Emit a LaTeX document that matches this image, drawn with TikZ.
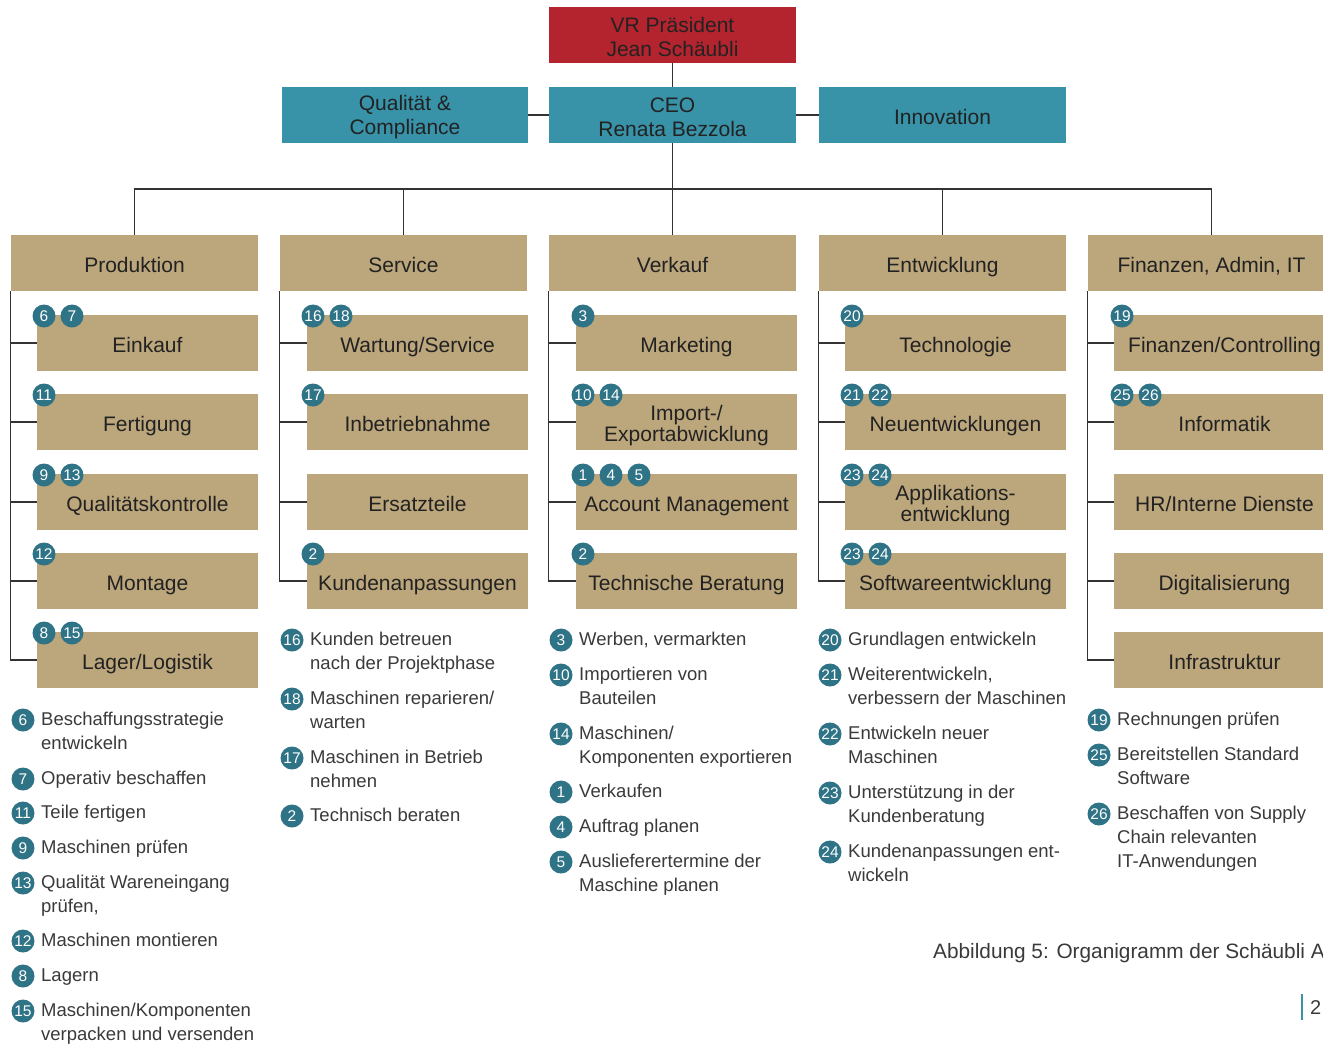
\documentclass[tikz,border=0pt]{standalone}
\usepackage{fontspec}
\setmainfont{Liberation Sans}
\definecolor{vrred}{HTML}{B3242F}
\definecolor{ceoteal}{HTML}{3892A8}
\definecolor{boxtan}{HTML}{BCA67B}
\definecolor{badgecol}{HTML}{2F7386}
\definecolor{linecol}{HTML}{333333}
\definecolor{txtcol}{HTML}{222222}
\definecolor{legcol}{HTML}{3A3A3A}
\newcommand\bstrut{\rule[-4pt]{0pt}{27pt}}
\newcommand\tstrut{\rule[-4pt]{0pt}{23pt}}
\tikzset{
  boxbase/.style={inner sep=0pt, align=center, text=txtcol, font=\fontsize{21}{21}\selectfont},
  topbox/.style={font=\fontsize{21}{24}\selectfont},
  conn/.style={draw=linecol, line width=1.3pt},
  badgec/.style={circle, fill=badgecol, inner sep=0pt, minimum size=23pt, text=white, font=\fontsize{15.5}{16}\selectfont},
  legtext/.style={anchor=north west, inner sep=0pt, align=left, text=legcol, font=\fontsize{18.5}{24}\selectfont},
}
% box: name, x1, y1, x2, y2, style, text
\newcommand\bx[7]{%
  \node[boxbase, #6, minimum width={#4-#2}, minimum height={#5-#3}] (#1) at ({(#2+#4)/2},{(#3+#5)/2}) {#7};}
% sub box: name, left, top, text
\newcommand\sbx[4]{\bx{#1}{#2}{#3}{#2+221}{#3+56}{fill=boxtan}{\bstrut#4}}
% badge: name, left, top, index, number
\newcommand\bdg[5]{\node[badgec] (#1) at ({#2+7+28*(#4)},{#3+1}) {#5};}
% legend item: name, circle x, y, number, text
\newcommand\lgd[5]{%
  \node[badgec] (#1-c) at (#2,{#3+1}) {#4};
  \node[legtext] (#1-t) at ({#2+18},{#3-10.3}) {\strut #5};}
\begin{document}
\begin{tikzpicture}[x=1pt,y=-1pt]
\useasboundingbox (0,0) rectangle (1323,1045);
\clip (0,0) rectangle (1323,1045);
\fill[white] (0,0) rectangle (1323,1045);

% top level
\bx{vr}{549}{7}{796}{63}{fill=vrred,topbox}{\tstrut VR Präsident\\Jean Schäubli}
\bx{ceo}{549}{87}{796}{143}{fill=ceoteal,topbox}{\tstrut CEO\\Renata Bezzola}
\bx{qc}{282}{87}{528}{143}{fill=ceoteal,topbox}{\tstrut Qualität \&\\Compliance}
\bx{inno}{819}{87}{1066}{143}{fill=ceoteal,topbox}{\bstrut Innovation}

% departments
\bx{prod}{11}{235}{258}{291}{fill=boxtan}{\bstrut Produktion}
\bx{serv}{280}{235}{527}{291}{fill=boxtan}{\bstrut Service}
\bx{verk}{549}{235}{796}{291}{fill=boxtan}{\bstrut Verkauf}
\bx{entw}{819}{235}{1066}{291}{fill=boxtan}{\bstrut Entwicklung}
\bx{fin}{1088}{235}{1335}{291}{fill=boxtan}{\bstrut Finanzen, Admin, IT}

% top connectors
\draw[conn] (vr.south) -- (ceo.north);
\draw[conn] (qc.east) -- (ceo.west);
\draw[conn] (ceo.east) -- (inno.west);
\coordinate (bus) at (673,189);
\draw[conn] (ceo.south) -- (verk.north);
\draw[conn] (prod.north) -- (prod.north |- bus) -- (fin.north |- bus) -- (fin.north);
\draw[conn] (serv.north |- bus) -- (serv.north);
\draw[conn] (entw.north |- bus) -- (entw.north);

% Produktion
\sbx{p1}{37}{315}{Einkauf}
\sbx{p2}{37}{394}{Fertigung}
\sbx{p3}{37}{474}{Qualitätskontrolle}
\sbx{p4}{37}{553}{Montage}
\sbx{p5}{37}{632}{Lager/Logistik}
\bdg{p1a}{37}{315}{0}{6}\bdg{p1b}{37}{315}{1}{7}
\bdg{p2a}{37}{394}{0}{11}
\bdg{p3a}{37}{474}{0}{9}\bdg{p3b}{37}{474}{1}{13}
\bdg{p4a}{37}{553}{0}{12}
\bdg{p5a}{37}{632}{0}{8}\bdg{p5b}{37}{632}{1}{15}
\draw[conn] (prod.south west) |- (p5.west);
\foreach \n in {p1,p2,p3,p4} \draw[conn] (prod.south west |- \n.west) -- (\n.west);

% Service
\sbx{s1}{307}{315}{Wartung/Service}
\sbx{s2}{307}{394}{Inbetriebnahme}
\sbx{s3}{307}{474}{Ersatzteile}
\sbx{s4}{307}{553}{Kundenanpassungen}
\bdg{s1a}{306}{315}{0}{16}\bdg{s1b}{306}{315}{1}{18}
\bdg{s2a}{306}{394}{0}{17}
\bdg{s4a}{306}{553}{0}{2}
\draw[conn] (serv.south west) |- (s4.west);
\foreach \n in {s1,s2,s3} \draw[conn] (serv.south west |- \n.west) -- (\n.west);

% Verkauf
\sbx{v1}{576}{315}{Marketing}
\sbx{v2}{576}{394}{Import-/\\Exportabwicklung}
\sbx{v3}{576}{474}{Account Management}
\sbx{v4}{576}{553}{Technische Beratung}
\bdg{v1a}{576}{315}{0}{3}
\bdg{v2a}{576}{394}{0}{10}\bdg{v2b}{576}{394}{1}{14}
\bdg{v3a}{576}{474}{0}{1}\bdg{v3b}{576}{474}{1}{4}\bdg{v3c}{576}{474}{2}{5}
\bdg{v4a}{576}{553}{0}{2}
\draw[conn] (verk.south west) |- (v4.west);
\foreach \n in {v1,v2,v3} \draw[conn] (verk.south west |- \n.west) -- (\n.west);

% Entwicklung
\sbx{e1}{845}{315}{Technologie}
\sbx{e2}{845}{394}{Neuentwicklungen}
\sbx{e3}{845}{474}{Applikations-\\entwicklung}
\sbx{e4}{845}{553}{Softwareentwicklung}
\bdg{e1a}{845}{315}{0}{20}
\bdg{e2a}{845}{394}{0}{21}\bdg{e2b}{845}{394}{1}{22}
\bdg{e3a}{845}{474}{0}{23}\bdg{e3b}{845}{474}{1}{24}
\bdg{e4a}{845}{553}{0}{23}\bdg{e4b}{845}{553}{1}{24}
\draw[conn] (entw.south west) |- (e4.west);
\foreach \n in {e1,e2,e3} \draw[conn] (entw.south west |- \n.west) -- (\n.west);

% Finanzen
\sbx{f1}{1114}{315}{Finanzen/Controlling}
\sbx{f2}{1114}{394}{Informatik}
\sbx{f3}{1114}{474}{HR/Interne Dienste}
\sbx{f4}{1114}{553}{Digitalisierung}
\sbx{f5}{1114}{632}{Infrastruktur}
\bdg{f1a}{1115}{315}{0}{19}
\bdg{f2a}{1115}{394}{0}{25}\bdg{f2b}{1115}{394}{1}{26}
\draw[conn] (fin.south west) |- (f5.west);
\foreach \n in {f1,f2,f3,f4} \draw[conn] (fin.south west |- \n.west) -- (\n.west);

% legends: Produktion
\lgd{l6}{23}{719}{6}{Beschaffungsstrategie\\entwickeln}
\lgd{l7}{23}{778}{7}{Operativ beschaffen}
\lgd{l11}{23}{812}{11}{Teile fertigen}
\lgd{l9}{23}{847}{9}{Maschinen prüfen}
\lgd{l13}{23}{882}{13}{Qualität Wareneingang\\prüfen,}
\lgd{l12}{23}{940}{12}{Maschinen montieren}
\lgd{l8}{23}{975}{8}{Lagern}
\lgd{l15}{23}{1010}{15}{Maschinen/Komponenten\\verpacken und versenden}
% Service
\lgd{l16}{292}{639}{16}{Kunden betreuen\\nach der Projektphase}
\lgd{l18}{292}{698}{18}{Maschinen reparieren/\\warten}
\lgd{l17}{292}{757}{17}{Maschinen in Betrieb\\nehmen}
\lgd{l2s}{292}{815}{2}{Technisch beraten}
% Verkauf
\lgd{l3}{561}{639}{3}{Werben, vermarkten}
\lgd{l10}{561}{674}{10}{Importieren von\\Bauteilen}
\lgd{l14}{561}{733}{14}{Maschinen/\\Komponenten exportieren}
\lgd{l1}{561}{791}{1}{Verkaufen}
\lgd{l4}{561}{826}{4}{Auftrag planen}
\lgd{l5}{561}{861}{5}{Auslieferertermine der\\Maschine planen}
% Entwicklung
\lgd{l20}{830}{639}{20}{Grundlagen entwickeln}
\lgd{l21}{830}{674}{21}{Weiterentwickeln,\\verbessern der Maschinen}
\lgd{l22}{830}{733}{22}{Entwickeln neuer\\Maschinen}
\lgd{l23}{830}{792}{23}{Unterstützung in der\\Kundenberatung}
\lgd{l24}{830}{851}{24}{Kundenanpassungen ent-\\wickeln}
% Finanzen
\lgd{l19}{1099}{719}{19}{Rechnungen prüfen}
\lgd{l25}{1099}{754}{25}{Bereitstellen Standard\\Software}
\lgd{l26}{1099}{813}{26}{Beschaffen von Supply\\Chain relevanten\\IT-Anwendungen}

% caption and page number
\node[anchor=base west, inner sep=0pt, text=legcol, font=\fontsize{20.8}{24}\selectfont] (cap) at (933,958) {Abbildung 5: Organigramm der Schäubli AG};
\node[anchor=base west, inner sep=0pt, text=legcol, font=\fontsize{20}{24}\selectfont] (pg) at (1310,1014) {2};
\draw[ceoteal, line width=2pt] (1302,994) -- (1302,1020);
\end{tikzpicture}
\end{document}
